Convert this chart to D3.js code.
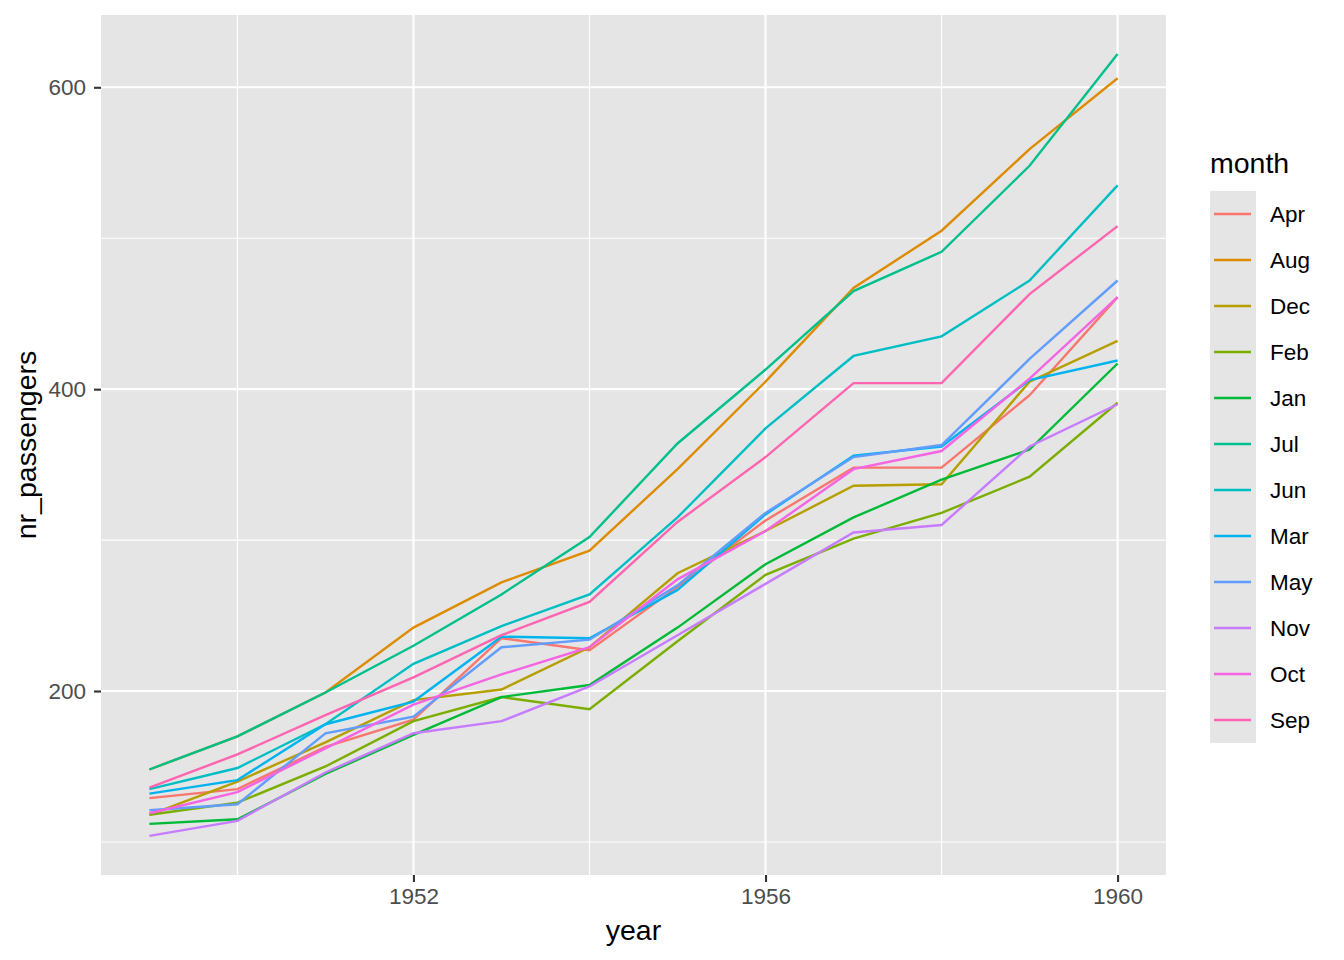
<!DOCTYPE html>
<html>
<head>
<meta charset="utf-8">
<script src="https://cdn.jsdelivr.net/npm/d3@7"></script>
<style>
  body { margin: 0; background: #fff; }
  text { font-family: "Liberation Sans", Arial, sans-serif; }
</style>
</head>
<body>
<svg id="chart" width="1344" height="960"></svg>
<script>
// AirPassengers, one line per month
var years = [1949, 1950, 1951, 1952, 1953, 1954, 1955, 1956, 1957, 1958, 1959, 1960];
var months = ["Apr", "Aug", "Dec", "Feb", "Jan", "Jul", "Jun", "Mar", "May", "Nov", "Oct", "Sep"];
var colors = ["#F8766D", "#DE8C00", "#B79F00", "#7CAE00", "#00BA38", "#00C08B",
              "#00BFC4", "#00B4F0", "#619CFF", "#C77CFF", "#F564E3", "#FF64B0"];

var jan = [112, 115, 145, 171, 196, 204, 242, 284, 315, 340, 360, 417];
var feb = [118, 126, 150, 180, 196, 188, 233, 277, 301, 318, 342, 391];
var mar = [132, 141, 178, 193, 236, 235, 267, 317, 356, 362, 406, 419];
var apr = [129, 135, 163, 181, 235, 227, 269, 313, 348, 348, 396, 461];
var may = [121, 125, 172, 183, 229, 234, 270, 318, 355, 363, 420, 472];
var jun = [135, 149, 178, 218, 243, 264, 315, 374, 422, 435, 472, 535];
var jul = [148, 170, 199, 230, 264, 302, 364, 413, 465, 491, 548, 622];
var aug = [148, 170, 199, 242, 272, 293, 347, 405, 467, 505, 559, 606];
var sep = [136, 158, 184, 209, 237, 259, 312, 355, 404, 404, 463, 508];
var oct = [119, 133, 162, 191, 211, 229, 274, 306, 347, 359, 407, 461];
var nov = [104, 114, 146, 172, 180, 203, 237, 271, 305, 310, 362, 390];
var dec = [118, 140, 166, 194, 201, 229, 278, 306, 336, 337, 405, 432];

var seriesByMonth = {
    Apr: apr, Aug: aug, Dec: dec, Feb: feb, Jan: jan, Jul: jul,
    Jun: jun, Mar: mar, May: may, Nov: nov, Oct: oct, Sep: sep
};

var xMajor = [1952, 1956, 1960];
var xMinor = [1950, 1954, 1958];
var yMajor = [200, 400, 600];
var yMinor = [100, 300, 500];

var svg = d3.select("#chart");
var panel = {left: 101, top: 15, right: 1166, bottom: 875};
var tickFont = "22.5px", titleFont = "28.5px";
var panelFill = "#E5E5E5";

// ggplot-style 5% expansion
var xLo = d3.min(years), xHi = d3.max(years);
var xPad = (xHi - xLo) * 0.05;
var allVals = [].concat.apply([], months.map(function(m){ return seriesByMonth[m]; }));
var yLo = d3.min(allVals), yHi = d3.max(allVals);
var yPad = (yHi - yLo) * 0.05;

var x = d3.scaleLinear().domain([xLo - xPad, xHi + xPad]).range([panel.left, panel.right]);
var y = d3.scaleLinear().domain([yLo - yPad, yHi + yPad]).range([panel.bottom, panel.top]);
var color = d3.scaleOrdinal().domain(months).range(colors);

svg.append("rect")
    .attr("x", panel.left).attr("y", panel.top)
    .attr("width", panel.right - panel.left).attr("height", panel.bottom - panel.top)
    .attr("fill", panelFill);

var grid = svg.append("g");
grid.selectAll(".ymin").data(yMinor).enter().append("line")
    .attr("x1", panel.left).attr("x2", panel.right)
    .attr("y1", function(d){ return y(d); }).attr("y2", function(d){ return y(d); })
    .attr("stroke", "#fff").attr("stroke-width", 1.1);
grid.selectAll(".xmin").data(xMinor).enter().append("line")
    .attr("y1", panel.top).attr("y2", panel.bottom)
    .attr("x1", function(d){ return x(d); }).attr("x2", function(d){ return x(d); })
    .attr("stroke", "#fff").attr("stroke-width", 1.1);
grid.selectAll(".ymaj").data(yMajor).enter().append("line")
    .attr("x1", panel.left).attr("x2", panel.right)
    .attr("y1", function(d){ return y(d); }).attr("y2", function(d){ return y(d); })
    .attr("stroke", "#fff").attr("stroke-width", 2.1);
grid.selectAll(".xmaj").data(xMajor).enter().append("line")
    .attr("y1", panel.top).attr("y2", panel.bottom)
    .attr("x1", function(d){ return x(d); }).attr("x2", function(d){ return x(d); })
    .attr("stroke", "#fff").attr("stroke-width", 2.1);

var line = d3.line()
    .x(function(d){ return x(d[0]); })
    .y(function(d){ return y(d[1]); });

svg.append("g").selectAll("path").data(months).enter().append("path")
    .attr("d", function(m){ return line(d3.zip(years, seriesByMonth[m])); })
    .attr("fill", "none")
    .attr("stroke", function(m){ return color(m); })
    .attr("stroke-width", 2.4);

// axes
var xAxis = d3.axisBottom(x).tickValues(xMajor).tickFormat(d3.format("d")).tickSize(7).tickPadding(6);
var yAxis = d3.axisLeft(y).tickValues(yMajor).tickSize(7).tickPadding(8);

var gx = svg.append("g").attr("transform", "translate(0," + panel.bottom + ")").call(xAxis);
var gy = svg.append("g").attr("transform", "translate(" + panel.left + ",0)").call(yAxis);
[gx, gy].forEach(function(g){
    g.select(".domain").remove();
    g.selectAll(".tick line").attr("stroke", "#333").attr("stroke-width", 2.1);
    g.selectAll(".tick text").attr("fill", "#4D4D4D").style("font-size", tickFont)
        .style("font-family", "'Liberation Sans', Arial, sans-serif");
});
gx.selectAll(".tick text").attr("dy", "0.71em");

svg.append("text")
    .attr("x", (panel.left + panel.right) / 2).attr("y", 940)
    .attr("text-anchor", "middle").style("font-size", titleFont).text("year");
svg.append("text")
    .attr("transform", "translate(36," + ((panel.top + panel.bottom) / 2) + ") rotate(-90)")
    .attr("text-anchor", "middle").style("font-size", titleFont).text("nr_passengers");

// legend
var leg = svg.append("g").attr("transform", "translate(1210,0)");
leg.append("text").attr("x", 0).attr("y", 173).style("font-size", titleFont).text("month");
leg.append("rect").attr("x", 0).attr("y", 191).attr("width", 46).attr("height", 552).attr("fill", panelFill);
var keys = leg.selectAll(".key").data(months).enter().append("g")
    .attr("transform", function(d, i){ return "translate(0," + (214 + i * 46) + ")"; });
keys.append("line").attr("x1", 4).attr("x2", 41).attr("y1", 0).attr("y2", 0)
    .attr("stroke", function(d){ return color(d); }).attr("stroke-width", 2.4);
keys.append("text").attr("x", 60).attr("y", 0).attr("dy", "0.35em")
    .style("font-size", tickFont).text(function(d){ return d; });
</script>
</body>
</html>
